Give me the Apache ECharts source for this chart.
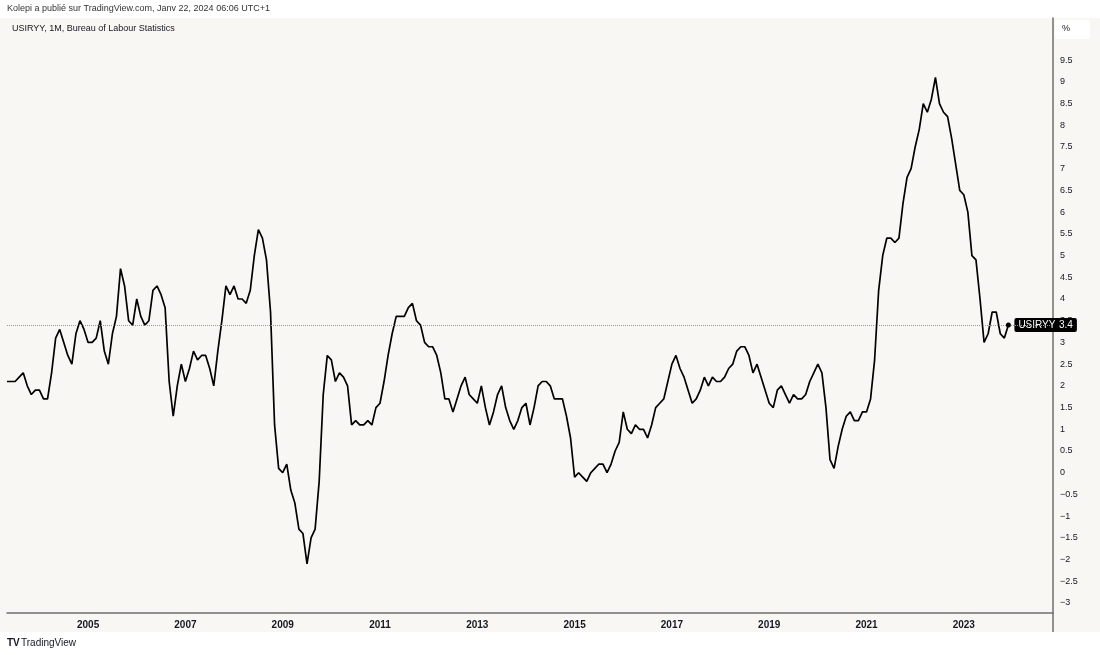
<!DOCTYPE html>
<html>
<head>
<meta charset="utf-8">
<script src="https://cdn.jsdelivr.net/npm/echarts@6/dist/echarts.min.js"></script>
<style>
html,body{margin:0;padding:0;background:#ffffff;}
#chart{width:1100px;height:655px;}
</style>
</head>
<body>
<div id="chart"></div>
<script>
// US CPI YoY (%), monthly, May 2003 – Dec 2023
const cpi2003 = [2.1, 2.1, 2.1, 2.2, 2.3, 2.0, 1.8, 1.9]; // May–Dec
const cpi2004 = [1.9, 1.7, 1.7, 2.3, 3.1, 3.3, 3.0, 2.7, 2.5, 3.2, 3.5, 3.3];
const cpi2005 = [3.0, 3.0, 3.1, 3.5, 2.8, 2.5, 3.2, 3.6, 4.7, 4.3, 3.5, 3.4];
const cpi2006 = [4.0, 3.6, 3.4, 3.5, 4.2, 4.3, 4.1, 3.8, 2.1, 1.3, 2.0, 2.5];
const cpi2007 = [2.1, 2.4, 2.8, 2.6, 2.7, 2.7, 2.4, 2.0, 2.8, 3.5, 4.3, 4.1];
const cpi2008 = [4.3, 4.0, 4.0, 3.9, 4.2, 5.0, 5.6, 5.4, 4.9, 3.7, 1.1, 0.1];
const cpi2009 = [0.0, 0.2, -0.4, -0.7, -1.3, -1.4, -2.1, -1.5, -1.3, -0.2, 1.8, 2.7];
const cpi2010 = [2.6, 2.1, 2.3, 2.2, 2.0, 1.1, 1.2, 1.1, 1.1, 1.2, 1.1, 1.5];
const cpi2011 = [1.6, 2.1, 2.7, 3.2, 3.6, 3.6, 3.6, 3.8, 3.9, 3.5, 3.4, 3.0];
const cpi2012 = [2.9, 2.9, 2.7, 2.3, 1.7, 1.7, 1.4, 1.7, 2.0, 2.2, 1.8, 1.7];
const cpi2013 = [1.6, 2.0, 1.5, 1.1, 1.4, 1.8, 2.0, 1.5, 1.2, 1.0, 1.2, 1.5];
const cpi2014 = [1.6, 1.1, 1.5, 2.0, 2.1, 2.1, 2.0, 1.7, 1.7, 1.7, 1.3, 0.8];
const cpi2015 = [-0.1, 0.0, -0.1, -0.2, 0.0, 0.1, 0.2, 0.2, 0.0, 0.2, 0.5, 0.7];
const cpi2016 = [1.4, 1.0, 0.9, 1.1, 1.0, 1.0, 0.8, 1.1, 1.5, 1.6, 1.7, 2.1];
const cpi2017 = [2.5, 2.7, 2.4, 2.2, 1.9, 1.6, 1.7, 1.9, 2.2, 2.0, 2.2, 2.1];
const cpi2018 = [2.1, 2.2, 2.4, 2.5, 2.8, 2.9, 2.9, 2.7, 2.3, 2.5, 2.2, 1.9];
const cpi2019 = [1.6, 1.5, 1.9, 2.0, 1.8, 1.6, 1.8, 1.7, 1.7, 1.8, 2.1, 2.3];
const cpi2020 = [2.5, 2.3, 1.5, 0.3, 0.1, 0.6, 1.0, 1.3, 1.4, 1.2, 1.2, 1.4];
const cpi2021 = [1.4, 1.7, 2.6, 4.2, 5.0, 5.4, 5.4, 5.3, 5.4, 6.2, 6.8, 7.0];
const cpi2022 = [7.5, 7.9, 8.5, 8.3, 8.6, 9.1, 8.5, 8.3, 8.2, 7.7, 7.1, 6.5];
const cpi2023 = [6.4, 6.0, 5.0, 4.9, 4.0, 3.0, 3.2, 3.7, 3.7, 3.2, 3.1, 3.4];

const xTickYears = ['2005','2007','2009','2011','2013','2015','2017','2019','2021','2023'];
const seriesName = 'USIRYY';

const values = [].concat(cpi2003, cpi2004, cpi2005, cpi2006, cpi2007, cpi2008, cpi2009,
  cpi2010, cpi2011, cpi2012, cpi2013, cpi2014, cpi2015, cpi2016, cpi2017, cpi2018,
  cpi2019, cpi2020, cpi2021, cpi2022, cpi2023);

// month categories from May 2003, extended with empty months to the right margin
const categories = [];
let y = 2003, m = 5;
for (let i = 0; i < 259; i++) {
  categories.push(y + '-' + String(m).padStart(2, '0'));
  m++; if (m > 12) { m = 1; y++; }
}
const lastIdx = values.length - 1;
const lastVal = values[lastIdx];

const FONT = '"Liberation Sans", "Noto Sans", sans-serif';
const chart = echarts.init(document.getElementById('chart'));
chart.setOption({
  backgroundColor: '#ffffff',
  animation: false,
  textStyle: { fontFamily: FONT },
  graphic: [
    { type: 'rect', z: -10, silent: true, shape: { x: 0, y: 18, width: 1100, height: 614 }, style: { fill: '#f8f7f3' } },
    { type: 'rect', z: 1, shape: { x: 1055, y: 20, width: 35, height: 19, r: 3 }, style: { fill: '#ffffff' } },
    { type: 'text', z: 2, left: 1062, top: 24, style: { text: '%', fontSize: 9, fill: '#131722', fontFamily: FONT } },
    { type: 'line', z: 2, shape: { x1: 1053, y1: 613, x2: 1053, y2: 632 }, style: { stroke: '#6f6f6f', lineWidth: 1.5 } },
    { type: 'text', left: 7, top: 4, style: { text: 'Kolepi a publié sur TradingView.com, Janv 22, 2024 06:06 UTC+1', fontSize: 9, fill: '#333333', fontFamily: FONT } },
    { type: 'text', left: 12, top: 24, style: { text: 'USIRYY, 1M, Bureau of Labour Statistics', fontSize: 9, fill: '#131722', fontFamily: FONT } },
    { type: 'text', left: 7, top: 638, style: { text: 'TV', fontSize: 10, fontWeight: 'bold', fill: '#131722', fontFamily: FONT } },
    { type: 'text', left: 21, top: 638, style: { text: 'TradingView', fontSize: 10, fill: '#131722', fontFamily: FONT } }
  ],
  grid: { left: 7, right: 47, top: 18, bottom: 42 },
  xAxis: {
    type: 'category',
    data: categories,
    boundaryGap: false,
    axisLine: { show: true, onZero: false, lineStyle: { color: '#6f6f6f', width: 1.5 } },
    axisTick: { show: false },
    splitLine: { show: false },
    axisLabel: {
      interval: function (idx, val) { return val.slice(5) === '01' && xTickYears.indexOf(val.slice(0, 4)) >= 0; },
      formatter: function (val) { return val.slice(0, 4); },
      color: '#131722', fontSize: 10, fontWeight: 'bold', margin: 7, fontFamily: FONT
    }
  },
  yAxis: {
    type: 'value',
    position: 'right',
    min: -3.23,
    max: 10.47,
    minInterval: 0.5,
    maxInterval: 0.5,
    splitLine: { show: false },
    axisTick: { show: false },
    axisLine: { show: true, lineStyle: { color: '#6f6f6f', width: 1.5 } },
    axisLabel: {
      showMinLabel: false, showMaxLabel: false,
      margin: 7, color: '#131722', fontSize: 9, fontFamily: FONT,
      formatter: function (v) {
        if (v > 9.5 || v < -3) return '';
        return String(v).replace('-', '\u2212');
      }
    }
  },
  series: [{
    name: seriesName,
    type: 'line',
    data: values,
    showSymbol: false,
    lineStyle: { color: '#000000', width: 1.7 },
    itemStyle: { color: '#000000' },
    endLabel: {
      show: true, formatter: seriesName, distance: 6,
      backgroundColor: '#000000', color: '#ffffff', fontSize: 10,
      padding: [2, 4, 2, 4], borderRadius: 2, fontFamily: FONT
    },
    markPoint: {
      symbol: 'circle', symbolSize: 5, silent: true,
      itemStyle: { color: '#000000' },
      label: { show: false },
      data: [{ coord: [lastIdx, lastVal] }]
    },
    markLine: {
      symbol: 'none', silent: true,
      lineStyle: { type: 'dotted', color: '#9a9a9a', width: 1 },
      label: {
        show: true, position: 'end', distance: 2,
        formatter: function (p) { return String(p.value); },
        backgroundColor: '#000000', color: '#ffffff', fontSize: 10,
        padding: [2, 4, 2, 4], borderRadius: 2, fontFamily: FONT
      },
      data: [{ yAxis: lastVal }]
    }
  }]
});
</script>
</body>
</html>
